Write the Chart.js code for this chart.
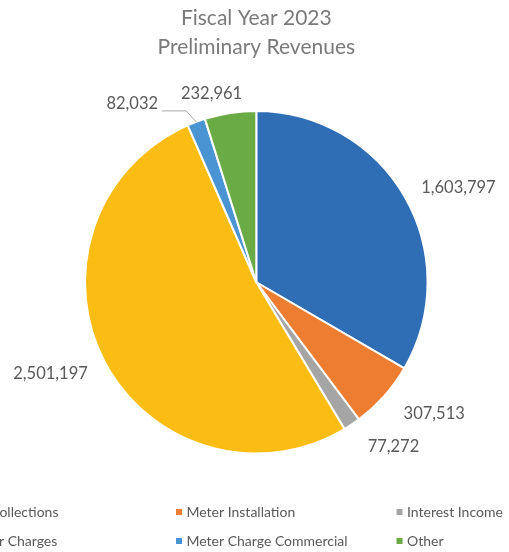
<!DOCTYPE html>
<html>
<head>
<meta charset="utf-8">
<script src="https://cdn.jsdelivr.net/npm/chart.js@4/dist/chart.umd.min.js"></script>
<style>
  html, body { margin: 0; padding: 0; background: #ffffff; overflow: hidden; }
  canvas { display: block; }
</style>
</head>
<body>
<canvas id="revenues" width="509" height="552"></canvas>
<script>
// Revenue sources, in the order the slices run clockwise from 12 o'clock
const categories = [
  'Tax Collections',
  'Meter Installation',
  'Interest Income',
  'Water Charges',
  'Meter Charge Commercial',
  'Other'
];
const revenues = [1603797, 307513, 77272, 2501197, 82032, 232961];
const sliceColors = ['#2F6DB5', '#ED7D31', '#A5A5A5', '#FBBD13', '#4A94D3', '#6AAB45'];

// Legend grid: column of each category and row it sits in
const legendOrder = [
  [0, 1, 2],
  [3, 4, 5]
];

// Where each value label sits: angle nudge (deg) from the slice middle, distance past the rim (px)
const labelPlacement = [
  [4.8, 52],
  [-5.2, 50],
  [-5.9, 43],
  [3.3, 54],
  [-14.3, 46],
  [-4.6, 23]
];
const leaderLines = [false, false, false, false, true, false];

const fmt = new Intl.NumberFormat('en-US');
const FONT = 'Lato, "Open Sans", "DejaVu Sans", sans-serif';

const valueLabels = {
  id: 'valueLabels',
  afterDatasetsDraw(chart) {
    const ctx = chart.ctx;
    const meta = chart.getDatasetMeta(0);
    ctx.save();
    ctx.font = '16.5px ' + FONT;
    ctx.fillStyle = '#595959';
    ctx.textAlign = 'center';
    ctx.textBaseline = 'middle';
    meta.data.forEach((arc, i) => {
      const p = arc.getProps(['x', 'y', 'startAngle', 'endAngle', 'outerRadius'], true);
      const mid = (p.startAngle + p.endAngle) / 2;
      const [nudge, gap] = labelPlacement[i];
      const a = mid + nudge * Math.PI / 180;
      const r = p.outerRadius + gap;
      const lx = p.x + Math.cos(a) * r;
      const ly = p.y + Math.sin(a) * r;
      const text = fmt.format(chart.data.datasets[0].data[i]);
      ctx.fillText(text, lx, ly);
      if (leaderLines[i]) {
        const w = ctx.measureText(text).width;
        const ex = p.x + Math.cos(mid) * p.outerRadius;
        const ey = p.y + Math.sin(mid) * p.outerRadius;
        const sx = lx + w / 2 + 4;
        const sy = ly + 7;
        ctx.beginPath();
        ctx.strokeStyle = '#A6A6A6';
        ctx.lineWidth = 1;
        ctx.moveTo(sx, sy);
        ctx.lineTo(ex - 10, sy);
        ctx.lineTo(ex, ey);
        ctx.stroke();
      }
    });
    ctx.restore();
  }
};

const gridLegend = {
  id: 'gridLegend',
  afterDraw(chart) {
    const ctx = chart.ctx;
    const colStep = 220.5;
    const firstMarkerX = 176 - colStep;
    const rowY = [512, 541];
    ctx.save();
    ctx.font = '14px ' + FONT;
    ctx.textAlign = 'left';
    ctx.textBaseline = 'middle';
    legendOrder.forEach((row, r) => {
      row.forEach((idx, c) => {
        const mx = firstMarkerX + c * colStep;
        ctx.fillStyle = sliceColors[idx];
        ctx.fillRect(mx, rowY[r] - 3, 6, 6);
        ctx.fillStyle = '#595959';
        ctx.fillText(chart.data.labels[idx], mx + 10.5, rowY[r]);
      });
    });
    ctx.restore();
  }
};

new Chart(document.getElementById('revenues'), {
  type: 'pie',
  data: {
    labels: categories,
    datasets: [{
      data: revenues,
      backgroundColor: sliceColors,
      borderColor: '#ffffff',
      borderWidth: 2
    }]
  },
  options: {
    responsive: false,
    animation: false,
    layout: { padding: { top: 0, bottom: 97.5, left: 4, right: 0.4 } },
    plugins: {
      legend: { display: false },
      tooltip: { enabled: false },
      title: {
        display: true,
        text: ['Fiscal Year 2023', 'Preliminary Revenues'],
        color: '#7A7A7A',
        font: { family: FONT, size: 21, weight: 'normal', lineHeight: 1.4 },
        padding: { top: 3.3, bottom: 47.9 }
      }
    }
  },
  plugins: [valueLabels, gridLegend]
});
</script>
</body>
</html>
